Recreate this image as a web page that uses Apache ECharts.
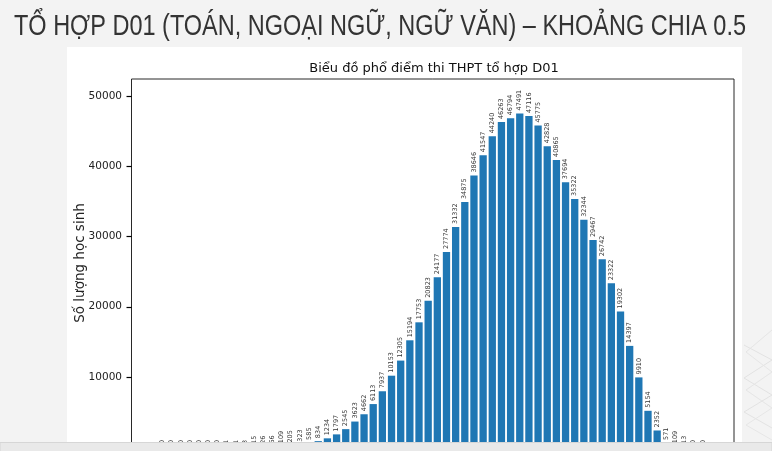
<!DOCTYPE html>
<html><head><meta charset="utf-8">
<script src="https://cdn.jsdelivr.net/npm/echarts@6/dist/echarts.min.js"></script>
<style>html,body{margin:0;padding:0;background:#f3f3f3;}#c{width:772px;height:451px;}</style>
</head><body><div id="c"></div>
<script>
const slideTitle = 'TỔ HỢP D01 (TOÁN, NGOẠI NGỮ, NGỮ VĂN) – KHOẢNG CHIA 0.5';
const chartTitle = 'Biểu đồ phổ điểm thi THPT tổ hợp D01';
const yAxisName = 'Số lượng học sinh';
const counts = [0, 0, 0, 0, 0, 0, 0, 1, 1, 3, 15, 26, 66, 109, 205, 323, 585, 834, 1234, 1797,
  2545, 3623, 4662, 6113, 7937, 10153, 12305, 15194, 17753, 20823, 24177, 27774, 31332, 34875,
  38646, 41547, 44240, 46263, 46794, 47491, 47116, 45775, 42828, 40865, 37694, 35322, 32344,
  29467, 26742, 23322, 19302, 14397, 9910, 5154, 2352, 571, 109, 13, 0, 0];
const yTicks = [10000, 20000, 30000, 40000, 50000];

const X_MIN = -3.39, X_MAX = 62.39;
const titleFamily = 'Liberation Sans';
const titleSize = 30;
const mctx = document.createElement('canvas').getContext('2d');
mctx.font = titleSize + 'px "' + titleFamily + '"';
const titleW = mctx.measureText(slideTitle).width;
const sx = 732 / titleW;

const baseGraphics = [
  {id: 'panel', type: 'rect', z: -100, shape: {x: 67, y: 47, width: 675, height: 400}, style: {fill: '#ffffff'}},
  {id: 'deco1', type: 'polyline', z: -90, shape: {points: [[744, 345], [772, 360], [744, 378], [772, 395], [744, 412], [772, 428]]},
    style: {stroke: '#e2e2e2', fill: null, lineWidth: 1}},
  {id: 'deco2', type: 'polyline', z: -90, shape: {points: [[772, 330], [746, 352], [772, 372], [746, 390], [772, 408], [746, 425], [772, 440]]},
    style: {stroke: '#e6e6e6', fill: null, lineWidth: 1}},
  {id: 'band', type: 'rect', z: 100, shape: {x: 0, y: 442.5, width: 772, height: 10}, style: {fill: '#e9e9e9', stroke: '#d6d6d6', lineWidth: 1}},
  {id: 'slideTitle', type: 'text', z: 100, x: 14, y: 27, scaleX: sx,
    style: {text: slideTitle, font: titleSize + 'px "' + titleFamily + '"', fill: '#333333',
      textAlign: 'left', textVerticalAlign: 'middle',
      shadowColor: 'rgba(0,0,0,0.35)', shadowBlur: 2, shadowOffsetX: 1, shadowOffsetY: 1}}
];

const chart = echarts.init(document.getElementById('c'), null, {renderer: 'canvas'});
chart.setOption({
  backgroundColor: '#f3f3f3',
  animation: false,
  title: {
    text: chartTitle, left: 429, top: 57, textAlign: 'center',
    textStyle: {fontFamily: 'DejaVu Sans', fontSize: 13, fontWeight: 'normal', color: '#111'}
  },
  grid: {
    left: 131.5, top: 79, width: 602.5, height: 368, show: true,
    borderColor: '#111', borderWidth: 0.9, backgroundColor: 'transparent'
  },
  xAxis: {
    type: 'value', min: X_MIN, max: X_MAX,
    axisLine: {show: false, onZero: false}, axisTick: {show: false}, axisLabel: {show: false}, splitLine: {show: false}
  },
  yAxis: {
    type: 'value', min: 0, max: 52400, interval: 10000,
    axisLine: {show: false, onZero: false},
    axisTick: {show: false},
    axisLabel: {fontFamily: 'DejaVu Sans', fontSize: 10.5, color: '#222', margin: 9.5,
      formatter: v => yTicks.indexOf(v) >= 0 ? String(v) : ''},
    splitLine: {show: false},
    name: yAxisName, nameLocation: 'middle', nameGap: 44, nameRotate: 90, nameMoveOverlap: false,
    nameTextStyle: {fontFamily: 'DejaVu Sans', fontSize: 13.5, color: '#222'}
  },
  graphic: baseGraphics,
  series: [{
    type: 'bar',
    data: counts.map((v, i) => [i, v]),
    barWidth: 7.3,
    itemStyle: {color: '#1f77b4'},
    label: {
      show: true, position: 'top', rotate: 90, align: 'left', verticalAlign: 'middle', distance: 3,
      fontFamily: 'DejaVu Sans', fontSize: 6.5, color: '#333',
      formatter: p => String(p.value[1])
    }
  }]
});

// y-axis tick marks placed through the chart's own scale
const tickGraphics = yTicks.map((v, k) => {
  const p = chart.convertToPixel({gridIndex: 0}, [X_MIN, v]);
  const y = Math.round(p[1]) + 0.5;
  return {id: 'ytick' + k, type: 'line', z: 110,
    shape: {x1: p[0] - 5, y1: y, x2: p[0], y2: y},
    style: {stroke: '#000', lineWidth: 1.2}};
});
chart.setOption({graphic: baseGraphics.concat(tickGraphics)});
</script></body></html>
